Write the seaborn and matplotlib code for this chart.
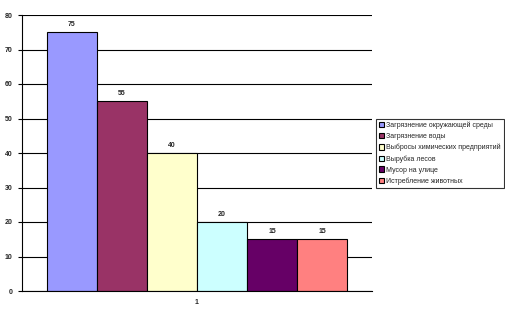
import matplotlib
matplotlib.use("Agg")
import matplotlib.pyplot as plt
import seaborn as sns
import pandas as pd

categories = ["1"]
series = ["Загрязнение окружающей среды", "Загрязнение воды",
          "Выбросы химических предприятий", "Вырубка лесов",
          "Мусор на улице", "Истребление животных"]
values = [75, 55, 40, 20, 15, 15]
colors = ["#9999FF", "#993366", "#FFFFCC", "#CCFFFF", "#660066", "#FF8080"]
yticks = [0, 10, 20, 30, 40, 50, 60, 70, 80]

df = pd.DataFrame({"cat": categories * len(series), "series": series, "value": values})

sns.set_style("white")
plt.rcParams["font.family"] = ["Liberation Sans", "DejaVu Sans"]

fig = plt.figure(figsize=(5.06, 3.16), dpi=100)
ax = fig.add_axes([22/506, 25/316, 350/506, 276/316])

sns.barplot(data=df, x="cat", y="value", hue="series", hue_order=series,
            palette=colors, width=0.857, edgecolor="black", linewidth=0.8,
            ax=ax, legend=True, saturation=1)

ax.set_xlim(-0.5, 0.5)
ax.set_ylim(0, 80)
ax.set_yticks(yticks)
ax.yaxis.grid(True, color="black", linewidth=0.8)
ax.set_axisbelow(True)
ax.set_xlabel("")
ax.set_ylabel("")
for s in ["top", "right"]:
    ax.spines[s].set_visible(False)
for s in ["left", "bottom"]:
    ax.spines[s].set_color("black")
    ax.spines[s].set_linewidth(0.8)
ax.tick_params(axis="y", length=3, width=0.8, color="black", labelsize=5, pad=4, left=True)
ax.tick_params(axis="x", length=0, labelsize=5, pad=6)
for lab in ax.get_yticklabels() + ax.get_xticklabels():
    lab.set_fontweight("bold")

for cont in ax.containers:
    ax.bar_label(cont, fmt="%d", fontsize=5, fontweight="bold", padding=3)

leg = ax.legend(loc="upper left", bbox_to_anchor=(376/506, 1 - 119/316), bbox_transform=fig.transFigure,
                fontsize=5, frameon=True, fancybox=False, edgecolor="black",
                handlelength=0.8, handleheight=0.8, handletextpad=0.3, labelspacing=0.55,
                borderpad=0.4, borderaxespad=0)
leg.get_frame().set_linewidth(0.8)

fig.savefig("out.png", dpi=100)
